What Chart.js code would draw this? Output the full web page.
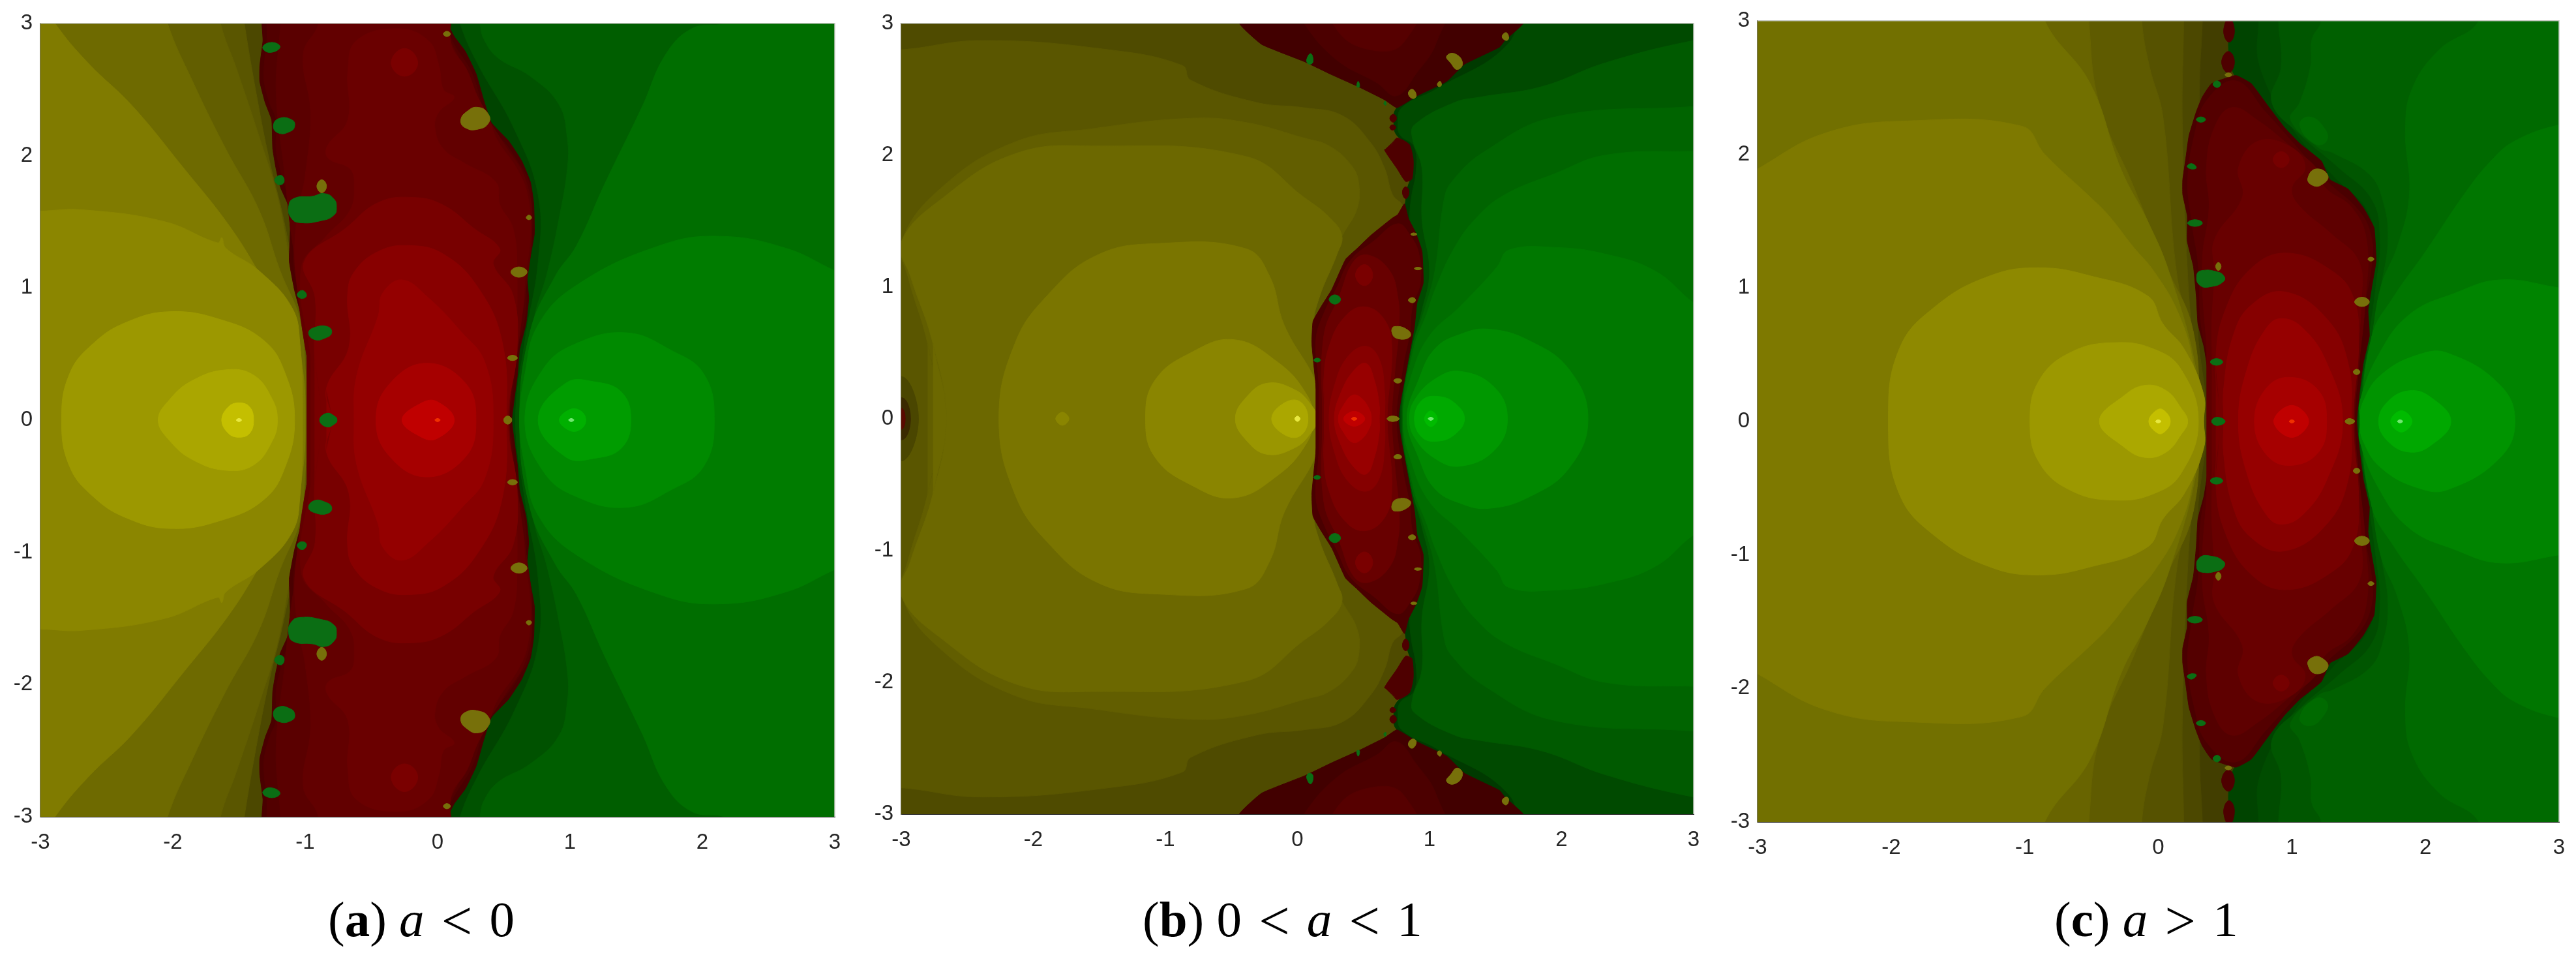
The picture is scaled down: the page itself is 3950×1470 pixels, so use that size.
<!DOCTYPE html>
<html><head><meta charset="utf-8">
<script src="https://cdn.jsdelivr.net/npm/chart.js@4"></script>
<style>
html,body{margin:0;padding:0;background:#fff;width:3950px;height:1470px;overflow:hidden}
canvas{position:absolute}
.cap{position:absolute;font-family:"Liberation Serif",serif;font-size:77px;color:#000;white-space:pre;line-height:90px;top:1362px}
.cap b{font-weight:bold}.cap i{font-style:italic}.cap span{margin:0 7px;font-size:84px;position:relative;top:5px}
</style></head><body>
<canvas id="a"></canvas><canvas id="b"></canvas><canvas id="c"></canvas>
<div class="cap" style="left:503px">(<b>a</b>) <i>a</i> <span>&lt;</span> 0</div>
<div class="cap" style="left:1752px">(<b>b</b>) 0 <span>&lt;</span> <i>a</i> <span>&lt;</span> 1</div>
<div class="cap" style="left:3150px">(<b>c</b>) <i>a</i> <span>&gt;</span> 1</div>
<script>
const tickValues=[-3,-2,-1,0,1,2,3];
/* Panel (a): upper-half contours, the lower half is the mirror image */
const A_Y1=[-3.3,0,-3.3,3.3,-1.5,3.3,-1.46,3,-1.37,2.47,-1.27,1.96,-1.17,1.55,-1.06,.99,-.98,.58,-.92,0];
const A_Y2=[-3.3,0,-3.3,3.3,-1.68,3.3,-1.64,3,-1.52,2.66,-1.35,2.15,-1.21,1.69,-1.12,1.22,-1.04,.76,-.96,0];
const A_Y3=[-3.3,0,-3.3,3.3,-2.1,3.3,-2.04,3,-1.85,2.56,-1.6,2.05,-1.35,1.59,-1.19,1.13,-1.04,.76,-1,.39,-.98,0];
const A_Y4=[-3.3,0,-3.3,3.3,-3,3.2,-2.89,3,-2.64,2.7,-2.31,2.38,-1.93,1.92,-1.56,1.45,-1.27,.99,-1.1,.76,-1.02,.39,-1,0];
const A_Y5=[-3.3,0,-3.3,1.57,-3,1.58,-2.68,1.59,-2.06,1.5,-1.66,1.34,-1.63,1.38,-1.6,1.3,-1.35,1.13,-1.1,.85,-1.04,.58,-1.02,0];
const A_Y6=[-2.84,0,-2.78,.35,-2.6,.58,-2.35,.74,-2.02,.82,-1.64,.76,-1.31,.6,-1.15,.35,-1.08,0];
const A_Y7=[-2.11,0,-2.02,.16,-1.85,.3,-1.6,.38,-1.39,.34,-1.25,.16,-1.21,0];
const A_Y8=[-1.63,0,-1.58,.1,-1.5,.13,-1.42,.1,-1.39,0];
const A_YD=[-1.52,0,-1.5,.012,-1.48,0];
const A_G0=[.5,0,.5,1,.55,1.5,.3,2.2,0,3,-.1,3.3,3.3,3.3,3.3,0];
const A_G1=[.59,0,.66,.6,.76,1.2,.76,1.7,.58,2.2,.3,2.7,.17,3,.1,3.3,3.3,3.3,3.3,0];
const A_G2=[.66,0,.72,.72,.83,1.12,.915,1.51,.98,1.9,.98,2.13,.915,2.39,.7,2.6,.455,2.74,.35,2.88,.32,3,.28,3.3,3.3,3.3,3.3,0];
const A_G3=[.62,0,.7,.67,.89,1.09,1.05,1.32,1.26,1.78,1.55,2.38,1.72,2.76,1.92,2.96,2.2,3.02,2.4,3.3,3.3,3.3,3.3,0];
const A_G4=[.62,0,.66,.35,.76,.72,1.05,1.02,1.68,1.32,2.13,1.39,2.63,1.3,3,1.13,3.3,1,3.3,0];
const A_G5=[.66,0,.8,.39,1.05,.58,1.43,.66,1.76,.53,2.01,.35,2.09,0];
const A_G6=[.76,0,.97,.28,1.18,.29,1.39,.21,1.46,0];
const A_G7=[.92,0,1,.08,1.08,.07,1.12,0];
const A_GD=[.99,0,1.01,.012,1.03,0];
const A_R0=[-.9,0,-.925,.15,-.974,.38,-.974,.61,-1.023,.77,-1.08,.98,-1.12,1.2,-1.113,1.45,-1.13,1.63,-1.187,1.76,-1.22,1.9,-1.245,2.05,-1.253,2.27,-1.302,2.4,-1.343,2.56,-1.343,2.68,-1.319,2.87,-1.327,3,-1.327,3.3,.077,3.3,.077,3,.126,2.9,.208,2.79,.29,2.62,.348,2.42,.405,2.25,.537,2.11,.635,1.96,.701,1.8,.726,1.64,.731,1.41,.701,1.24,.676,1.08,.688,.92,.668,.73,.619,.53,.603,.34,.578,.15,.56,0];
const A_R1=[-.87,0,-.94,.38,-1,.77,-1.05,.98,-1.09,1.2,-1.08,1.45,-1.1,1.63,-1.15,1.76,-1.19,1.9,-1.22,2.05,-1.22,2.27,-1.27,2.4,-1.31,2.56,-1.31,2.68,-1.29,2.87,-1.29,3,-1.29,3.3,.04,3.3,.06,3,.12,2.85,.26,2.62,.38,2.25,.52,2.08,.62,1.93,.69,1.8,.71,1.64,.71,1.41,.67,1.24,.66,1.08,.67,.92,.65,.73,.6,.53,.58,.34,.56,.15,.54,0];
const A_R2=[-.86,0,-.966,.63,-1.04,1.02,-1.105,1.41,-1.155,1.86,-1.22,2.48,-1.187,3,-1.187,3.3,.05,3.3,.05,3,.208,2.64,.307,2.4,.5,2.09,.67,1.8,.71,1.41,.67,1.02,.6,.53,.54,0];
const A_R3=[-.88,0,-.99,.5,-1.06,1,-1.08,1.3,-1.05,1.6,-1,1.85,-.96,2.33,-1.015,2.77,-.9,3,-.9,3.3,.08,3.3,.1,2.85,.22,2.65,.3,2.45,.38,2.3,.45,2.12,.6,1.9,.68,1.7,.7,1.4,.66,1.05,.65,.9,.6,.5,.54,0];
const A_R4=[-.87,0,-.96,.5,-1.03,1.15,-.842,1.39,-.662,1.586,-.629,1.78,-.662,1.9,-.826,1.98,-.834,2.07,-.678,2.27,-.678,2.64,-.612,2.87,-.3,2.96,-.07,2.87,.01,2.68,.044,2.5,.126,2.44,.01,2.33,-.02,2.21,.044,2.05,.208,1.94,.44,1.8,.47,1.63,.57,1.45,.6,1.12,.586,.535,.54,0];
const A_R5=[-.88,0,-.93,.5,-.925,.925,-1.007,1.2,-.695,1.45,-.448,1.645,-.186,1.684,.044,1.625,.274,1.45,.47,1.295,.42,1.18,.57,.945,.6,.535,.53,0];
const A_R6=[-.8,0,-.84,.24,-.67,.55,-.68,.945,-.63,1.12,-.448,1.275,-.218,1.32,.044,1.255,.307,1,.488,.59,.52,0];
const A_R7=[-.63,0,-.61,.34,-.448,.79,-.415,.96,-.268,1.06,-.07,.925,.176,.67,.356,.44,.42,0];
const A_R8=[-.465,0,-.366,.27,-.087,.43,.21,.28,.29,0];
const A_R9=[-.268,0,-.12,.13,-.005,.14,.126,0];
const A_RD=[-.02,0,0,.012,.02,0];
const A_SPOT=[-.35,2.7,-.25,2.81,-.15,2.7,-.25,2.6];
const A_GREEN=[[-1.125,1.606,-1.089,1.674,-.941,1.693,-.859,1.713,-.785,1.674,-.764,1.606,-.785,1.548,-.875,1.509,-1.04,1.493,-1.105,1.528],[-1.24,2.22,-1.2,2.28,-1.1,2.27,-1.08,2.22,-1.12,2.18,-1.2,2.17],[-.974,.66,-.93,.7,-.83,.706,-.8,.66,-.85,.62,-.93,.609],[-.89,0,-.84,.05,-.78,.03,-.76,0,-.78,-.03,-.84,-.05],[-1.32,2.82,-1.25,2.856,-1.19,2.82,-1.27,2.78],[-1.23,1.82,-1.18,1.85,-1.16,1.8,-1.2,1.78],[-1.06,.95,-1.02,.98,-.99,.94,-1.03,.92]];
const A_YELLOW=[[-.911,1.768,-.875,1.817,-.839,1.768,-.875,1.719],[.176,2.268,.225,2.336,.307,2.365,.381,2.317,.386,2.248,.307,2.2,.21,2.21],[.554,1.12,.615,1.158,.676,1.12,.615,1.08],[.529,.47,.566,.49,.603,.47,.566,.45],[.5,0,.53,.03,.56,0,.53,-.03],[.67,1.53,.69,1.55,.71,1.53,.69,1.515],[.044,2.92,.07,2.94,.097,2.92,.07,2.9]];
/* Panel (b) */
const B_Y1=[-3.3,0,-3.3,3.3,1,3.3,1,0];
const B_Y2=[-3.3,0,-3.3,2.8,-3,2.8,-2.39,2.87,-1.43,2.8,-.87,2.68,-.81,2.57,-.31,2.4,.05,2.36,.34,2.3,.55,2.1,.66,1.9,.72,1.7,.8,1.6,.85,0];
const B_Y2B=[-2.7,0,-2.8,.57,-2.95,1.08,-3,1.34,-2.7,1.75,-2.14,2.1,-1.56,2.2,-.81,2.28,-.4,2.25,.05,2.13,.24,2.07,.41,1.92,.465,1.78,.45,1.59,.34,1.39,.22,1.13,.13,.84,.14,0];
const B_Y3=[-2.66,0,-2.76,.57,-2.93,1.08,-3,1.34,-2.68,1.68,-2.14,2.01,-1.56,2.07,-.39,1.99,.05,1.68,.24,1.53,.336,1.39,.3,1.25,.165,.92,.12,.7,.15,0];
const B_Y4=[-2.26,0,-2.14,.57,-1.89,.94,-1.52,1.24,-1.06,1.33,-.39,1.29,-.21,1.08,-.1,.71,.15,.25,.17,0];
const B_Y5=[-1.15,0,-1.08,.29,-.81,.5,-.48,.6,-.15,.43,.06,.2,.12,0];
const B_Y6=[-.47,0,-.39,.16,-.23,.27,-.02,.22,.1,.11,.15,0];
const B_Y7=[-.195,0,-.1,.12,.02,.13,.08,0];
const B_YD=[-.02,0,0,.02,.02,0];
const B_YS=[-1.83,0,-1.78,.05,-1.73,0];
const B_N1=[-3.2,0,-3,.32,-2.87,0];
const B_N2=[-3.2,0,-3,.16,-2.93,0];
const B_N3=[-3.1,0,-3,.08,-2.97,0];
const B_G0=[.7,0,.75,1,.8,1.5,.82,1.66,.83,1.74,.877,1.9,.848,2.07,.753,2.15,.73,2.23,.753,2.36,1,2.55,1.6,3.3,3.3,3.3,3.3,0];
const B_G1=[.78,0,.85,.6,.88,1,.85,1.5,.86,1.66,.9,1.9,.88,2.07,.78,2.15,.76,2.23,.79,2.36,1.05,2.5,1.6,2.85,1.78,3.3,3.3,3.3,3.3,0];
const B_G2=[.79,0,.867,.53,.943,.82,1,1.12,.943,1.51,.943,1.9,.87,2.13,.886,2.23,1.19,2.4,1.38,2.44,1.85,2.52,2.33,2.7,3,2.87,3.3,2.9,3.3,0];
const B_G3=[.795,0,.867,.53,.96,.82,1.04,1.12,1.11,1.66,1.17,1.8,1.42,2.03,1.95,2.29,3,2.37,3.3,2.4,3.3,0];
const B_G4=[.8,0,.88,.53,.98,.8,1.05,1,1.19,1.3,1.36,1.53,1.57,1.7,1.95,1.86,2.33,2,3,2.03,3.3,2.03,3.3,0];
const B_G5=[.8,0,.867,.34,1,.63,1.23,.85,1.51,1.15,1.6,1.28,1.95,1.3,2.33,1.25,2.71,1.12,3,.88,3.3,.7,3.3,0];
const B_G6=[.83,0,.92,.3,1.04,.53,1.23,.64,1.45,.68,1.76,.59,2.06,.37,2.2,0];
const B_G7=[.85,0,.886,.14,1.04,.3,1.23,.36,1.49,.24,1.59,0];
const B_G8=[.886,0,.943,.14,1.06,.17,1.19,.12,1.265,0];
const B_G9=[.962,0,1.01,.06,1.06,0];
const B_GD=[.99,0,1.01,.012,1.03,0];
const B_R0=[.166,0,.137,.28,.109,.57,.118,.74,.185,.86,.26,.98,.365,1.21,.45,1.29,.554,1.39,.715,1.52,.76,1.55,.81,1.63,.84,1.52,.896,1.41,.943,1.27,.952,1.03,.905,.88,.886,.7,.839,.45,.782,.14,.763,0];
const B_R1=[.18,0,.16,.3,.14,.6,.2,.8,.3,1,.4,1.2,.58,1.35,.76,1.48,.86,1.38,.92,1.25,.93,1.03,.87,.85,.85,.65,.8,.4,.75,0];
const B_R2=[.19,0,.2,.63,.317,.93,.43,1.2,.545,1.24,.7,1.12,.76,.92,.77,.72,.735,.33,.715,0];
const B_R3=[.21,0,.2,.3,.24,.55,.355,.77,.507,.85,.66,.75,.715,.53,.68,0];
const B_R4=[.24,0,.28,.25,.38,.47,.52,.55,.62,.45,.66,.2,.66,0];
const B_R5=[.28,0,.33,.2,.43,.37,.52,.42,.58,.3,.62,.1,.62,0];
const B_R6=[.31,0,.36,.12,.42,.18,.48,.16,.54,.08,.56,0];
const B_R7=[.35,0,.4,.05,.46,.05,.51,0];
const B_RD=[.41,0,.43,.012,.45,0];
const B_RSPOT=[.44,1.09,.507,1.17,.57,1.09,.507,1.01];
const B_RS=[.687,2.05,.753,2.13,.848,2.08,.877,1.96,.867,1.82,.82,1.8,.753,1.9,.659,2.04];
const B_RS2=[.7,2.28,.725,2.31,.75,2.28,.725,2.25];
const B_RS4=[.7,2.21,.72,2.23,.745,2.21,.72,2.19];
const B_RS3=[.795,1.72,.82,1.76,.845,1.72,.82,1.67];
const B_RT0=[-.44,3.3,-.44,3,-.27,2.84,.052,2.71,.26,2.61,.46,2.52,.66,2.42,.753,2.36,.905,2.45,1.13,2.56,1.265,2.69,1.53,2.82,1.57,2.87,1.66,2.95,1.71,3,1.75,3.3];
const B_RT1=[-.1,3.3,.05,3,.3,2.72,.6,2.55,.75,2.45,.9,2.62,1.05,2.85,1.15,3.3];
const B_RT2=[.2,3.3,.3,2.95,.55,2.8,.8,2.85,.95,3.3];
const B_GREEN=[[.24,.905,.283,.94,.327,.905,.283,.87],[.124,.445,.15,.46,.175,.445,.15,.43],[.07,2.72,.1,2.77,.118,2.71,.09,2.69],[.45,2.52,.46,2.56,.47,2.52],[.655,2.39,.665,2.41,.67,2.38]];
const B_YELLOW=[[.715,.66,.735,.7,.84,.67,.85,.62,.753,.61],[.84,.9,.87,.92,.895,.9,.87,.88],[.886,1.14,.91,1.15,.94,1.14,.91,1.13],[.858,1.4,.88,1.41,.905,1.4,.88,1.39],[.73,.29,.76,.305,.79,.29,.76,.27],[.68,0,.72,.02,.77,0,.72,-.02],[1.13,2.75,1.19,2.77,1.25,2.7,1.21,2.65,1.16,2.7],[1.55,2.9,1.58,2.93,1.6,2.89,1.58,2.87],[.84,2.47,.87,2.5,.9,2.45,.87,2.43],[1.06,2.54,1.08,2.56,1.09,2.53,1.07,2.52]];
/* Panel (c) */
const C_Y0=[.36,0,.3,.6,.3,1.5,.31,2.57,.33,3,.33,3.3,-3.3,3.3,-3.3,0];
const C_Y1=[.32,0,.26,.59,.22,1.09,.18,2.23,.19,3,.19,3.3,-3.3,3.3,-3.3,0];
const C_Y2=[.32,0,.26,.59,.14,1.09,.035,2.28,-.067,2.66,-.124,3,-.124,3.3,-3.3,3.3,-3.3,0];
const C_Y3=[.3,0,.26,.68,.05,1.18,-.19,1.77,-.44,2.37,-.52,3,-.52,3.3,-3.3,3.3,-3.3,0];
const C_Y4=[.3,0,.28,.4,.08,1.12,-.08,1.5,-.28,1.89,-.51,2.53,-.85,3,-.87,3.3,-3.3,3.3,-3.3,0];
const C_Y5=[.3,0,.26,.44,.15,.81,-.03,1.12,-.19,1.31,-.37,1.54,-.51,1.68,-.85,2,-1.02,2.21,-1.88,2.25,-2.49,2.16,-3,1.89,-3.3,1.7,-3.3,0];
const C_Y6=[-2.02,0,-1.94,.54,-1.67,.86,-1.26,1.09,-.89,1.15,-.51,1.09,-.08,.94,.035,.73,.195,.54,.34,.2,.34,0];
const C_Y7=[-.96,0,-.89,.31,-.65,.52,-.32,.59,-.03,.54,.17,.39,.3,0];
const C_Y8=[-.44,0,-.26,.19,-.1,.27,.06,.23,.17,.1,.22,0];
const C_Y9=[-.07,0,-.03,.07,.03,.09,.09,0];
const C_YD=[-.02,0,0,.012,.02,0];
const C_G0=[1.4,0,1.4,1,1.4,1.5,.9,2.2,.6,2.55,.535,2.7,.53,3,.53,3.3,3.3,3.3,3.3,0];
const C_G1=[1.49,0,1.55,.6,1.6,1.2,1.58,1.55,1.3,1.85,1,2.2,.76,2.66,.75,3,.75,3.3,3.3,3.3,3.3,0];
const C_G2=[1.5,0,1.56,.5,1.63,1.02,1.66,1.37,1.6,1.66,1.35,1.9,1.06,2.15,.85,2.39,.92,2.66,.9,3,.9,3.3,3.3,3.3,3.3,0];
const C_G3=[1.52,0,1.53,.3,1.6,.64,1.67,1.02,1.72,1.37,1.68,1.66,1.58,1.85,1.31,2.01,1.2,2.05,.99,2.26,1.06,2.39,1.14,2.66,1.15,2.86,1.22,3,1.22,3.3,3.3,3.3,3.3,0];
const C_G4=[1.52,0,1.54,.3,1.6,.64,1.67,1.02,1.79,1.31,1.88,1.7,1.85,2.18,1.9,2.49,2.1,2.78,2.4,3,2.4,3.3,3.3,3.3,3.3,0];
const C_G5=[1.53,0,1.6,.64,1.76,.93,2,1.27,2.29,1.7,2.49,1.95,2.67,2.1,3,2.22,3.3,2.25,3.3,0];
const C_G6=[1.51,0,1.51,.15,1.65,.5,1.88,.8,2.22,.96,2.56,1.06,3,1,3.3,.95,3.3,0];
const C_G7=[1.51,0,1.535,.15,1.67,.35,1.95,.5,2.17,.51,2.56,.27,2.67,0];
const C_G8=[1.65,0,1.72,.15,1.88,.23,2.04,.18,2.19,0];
const C_G9=[1.74,0,1.82,.08,1.9,0];
const C_GD=[1.79,0,1.81,.012,1.83,0];
const C_GS=[1.06,2.22,1.13,2.28,1.24,2.2,1.26,2.1,1.17,2.08];
const C_R0=[.445,0,.42,.12,.376,.35,.342,.56,.297,.73,.285,.93,.263,1.16,.217,1.35,.217,1.54,.183,1.7,.183,1.81,.206,1.97,.23,2.14,.285,2.32,.33,2.43,.4,2.53,.58,2.59,.695,2.53,.83,2.35,.945,2.2,1.06,2.08,1.22,1.95,1.285,1.81,1.42,1.74,1.535,1.6,1.615,1.45,1.63,1.2,1.6,1.02,1.57,.83,1.58,.64,1.535,.44,1.51,.25,1.485,0];
const C_R1=[.46,0,.4,.35,.32,.73,.3,1.16,.25,1.5,.22,1.8,.27,2.14,.36,2.4,.58,2.55,.8,2.32,1.04,2.05,1.26,1.8,1.5,1.58,1.59,1.4,1.6,1.2,1.54,.83,1.48,.25,1.46,0];
const C_R2=[.43,0,.36,.6,.33,1.2,.38,1.6,.36,1.9,.42,2.2,.55,2.35,.75,2.25,1,2.05,1.18,1.9,1.25,1.75,1.45,1.6,1.56,1.35,1.55,.9,1.5,.4,1.47,0];
const C_R3=[.44,0,.4,.6,.42,1.12,.42,1.36,.63,1.68,.6,1.9,.75,2.1,1,2.05,1.1,1.9,1,1.75,1.05,1.62,1.3,1.4,1.5,1.2,1.52,.9,1.46,0];
const C_R4=[.46,0,.43,.45,.5,.83,.7,1.15,.97,1.26,1.31,1.12,1.46,.93,1.5,.6,1.46,0];
const C_R5=[.49,0,.49,.25,.56,.64,.695,.87,.945,.97,1.26,.77,1.42,.44,1.445,0];
const C_R6=[.6,0,.67,.41,.81,.7,.92,.77,1.08,.7,1.26,.44,1.38,0];
const C_R7=[.72,0,.81,.25,.99,.33,1.2,.23,1.26,0];
const C_R8=[.865,0,1,.12,1.126,0];
const C_RD=[.98,0,1,.012,1.02,0];
const C_RS=[.86,1.96,.92,2.02,.98,1.96,.92,1.9];
const C_RT1=[.475,2.69,.525,2.77,.57,2.69,.525,2.61];
const C_RT2=[.49,2.92,.53,3.02,.57,2.92,.53,2.84];
const C_GREEN=[[.29,1.1,.33,1.13,.44,1.12,.49,1.09,.49,1.05,.4,1.01,.31,1.02],[.39,.445,.435,.47,.483,.445,.435,.42],[.4,0,.44,.03,.5,0,.44,-.03],[.217,1.91,.25,1.93,.285,1.9,.25,1.89],[.22,1.485,.275,1.51,.33,1.485,.275,1.46],[.285,2.26,.32,2.28,.354,2.26,.32,2.24],[.41,2.525,.44,2.55,.467,2.525,.44,2.5]];
const C_YELLOW=[[.43,1.16,.45,1.19,.47,1.16,.45,1.13],[1.12,1.82,1.18,1.89,1.27,1.84,1.22,1.77,1.15,1.77],[1.47,.895,1.525,.93,1.58,.895,1.525,.86],[1.46,.37,1.485,.39,1.51,.37,1.485,.35],[1.57,1.215,1.59,1.23,1.615,1.215,1.59,1.2],[1.4,0,1.43,.02,1.47,0,1.43,-.02],[.5,2.595,.525,2.61,.55,2.595,.525,2.58]];

const GI="#0b6e14", YI="#77700a";
const SMOOTH=.42, SHARP=.12;

function pairs(f){const o=[];for(let i=0;i<f.length;i+=2)o.push({x:f[i],y:f[i+1]});return o;}
/* wrap a ring so that the spline has neighbours at the seam too */
function wrap(r){return [r[r.length-1],...r,r[0],r[1]];}
/* close an upper-half chain with its mirror image below the axis */
function mirrored(f){const p=pairs(f),q=[...p];for(let i=p.length-1;i>=0;i--){if(p[i].y!==0)q.push({x:p[i].x,y:-p[i].y});}return wrap(q);}
function flip(f){return pairs(f).map(p=>({x:p.x,y:-p.y}));}
function makeDatasets(layers){
  const out=[];
  const add=(data,color,tension)=>out.push({data,backgroundColor:color,borderColor:color,borderWidth:1,fill:'shape',pointRadius:0,tension});
  for(const [kind,color,f,t] of layers){
    const ten=t===undefined?SMOOTH:t;
    if(kind==='m') add(mirrored(f),color,ten);
    else { add(wrap(pairs(f)),color,ten); add(wrap(flip(f)),color,ten); }
  }
  return out;
}
const many=(list,color)=>list.map(f=>['i',color,f,.5]);
const layersA=[
 ['m','#4c4800',[-3.3,0,-3.3,3.3,.2,3.3,.2,0]],
 ['m','#5a5600',A_Y1],['m','#625e00',A_Y2],['m','#6e6a00',A_Y3],['m','#807b00',A_Y4],['m','#8b8600',A_Y5],['m','#9c9800',A_Y6],['m','#aaa600',A_Y7],['m','#c4bf00',A_Y8],['m','#e8e840',A_YD],
 ['m','#004400',A_G0],['m','#005200',A_G1],['m','#005e00',A_G2],['m','#006e00',A_G3],['m','#007c00',A_G4],['m','#008a00',A_G5],['m','#009c00',A_G6],['m','#00b000',A_G7],['m','#70e870',A_GD],
 ['m','#4a0000',A_R0,SHARP],['m','#520000',A_R1],['m','#5a0000',A_R2],['m','#620000',A_R3],['m','#6a0000',A_R4],['m','#780000',A_R5],['m','#880000',A_R6],['m','#940000',A_R7],['m','#a60000',A_R8],['m','#c00000',A_R9],['m','#f03000',A_RD],
 ['i','#7a0000',A_SPOT,.5],...many(A_GREEN,GI),...many(A_YELLOW,YI)];
const layersB=[
 ['m','#4f4b00',B_Y1],['m','#5a5600',B_Y2],['m','#625e00',B_Y2B],['m','#6c6800',B_Y3],['m','#7a7500',B_Y4],['m','#8a8500',B_Y5],['m','#9a9600',B_Y6],['m','#aba700',B_Y7],['m','#e8e840',B_YD],['m','#8a8500',B_YS],
 ['m','#4a4600',B_N1],['m','#3a2a00',B_N2],['m','#5a0a00',B_N3],
 ['m','#003a00',B_G0],['m','#004a00',B_G1],['m','#005a00',B_G2],['m','#006400',B_G3],['m','#006e00',B_G4],['m','#007800',B_G5],['m','#008800',B_G6],['m','#009800',B_G7],['m','#00aa00',B_G8],['m','#00bb00',B_G9],['m','#70e870',B_GD],
 ['m','#4a0000',B_R0,SHARP],['m','#580000',B_R1],['m','#680000',B_R2],['m','#780000',B_R3],['m','#860000',B_R4],['m','#980000',B_R5],['m','#aa0000',B_R6],['m','#c00000',B_R7],['m','#f03000',B_RD],
 ['i','#7a0000',B_RSPOT,.5],['i','#4e0000',B_RS,.2],['i','#4e0000',B_RS2,.5],['i','#4e0000',B_RS4,.5],['i','#4e0000',B_RS3,.5],
 ['i','#420000',B_RT0,SHARP],['i','#4c0000',B_RT1],['i','#560000',B_RT2],...many(B_GREEN,GI),...many(B_YELLOW,YI)];
const layersC=[
 ['m','#423e00',[-3.3,0,-3.3,3.3,.7,3.3,.7,0]],
 ['m','#4c4800',C_Y0],['m','#565200',C_Y1],['m','#5f5b00',C_Y2],['m','#686400',C_Y3],['m','#727000',C_Y4],['m','#7e7900',C_Y5],['m','#8e8900',C_Y6],['m','#9c9800',C_Y7],['m','#aba800',C_Y8],['m','#c4bf00',C_Y9],['m','#e8e840',C_YD],
 ['m','#004400',C_G0],['m','#004c00',C_G1],['m','#005600',C_G2],['m','#006000',C_G3],['m','#006a00',C_G4],['i','#006a00',C_GS,.5],['m','#007600',C_G5],['m','#008400',C_G6],['m','#009400',C_G7],['m','#00a800',C_G8],['m','#00bb00',C_G9],['m','#70e870',C_GD],
 ['m','#4a0000',C_R0,SHARP],['m','#540000',C_R1],['m','#5e0000',C_R2],['m','#680000',C_R3],['m','#760000',C_R4],['m','#860000',C_R5],['m','#960000',C_R6],['m','#a60000',C_R7],['m','#c00000',C_R8],['m','#f03000',C_RD],
 ['i','#760000',C_RS,.5],['i','#4e0000',C_RT1,.5],['i','#4e0000',C_RT2,.5],...many(C_GREEN,GI),...many(C_YELLOW,YI)];

const frame={id:'frame',afterDatasetsDraw(chart){const {ctx,chartArea:a}=chart;ctx.save();ctx.strokeStyle='#c4c8c0';ctx.lineWidth=1.5;ctx.beginPath();ctx.moveTo(a.left,a.top);ctx.lineTo(a.right,a.top);ctx.lineTo(a.right,a.bottom);ctx.stroke();ctx.restore();}};
function panel(id,layers,plot){
  const pad={left:0,top:30,right:40,bottom:0};
  const el=document.getElementById(id);
  const W=plot.r-plot.l+plot.yw+pad.right, H=plot.b-plot.t+pad.top+plot.xh;
  el.width=W;el.height=H;el.style.left=(plot.l-plot.yw)+'px';el.style.top=(plot.t-pad.top)+'px';
  const ds=makeDatasets(layers);ds.forEach((d,i)=>d.order=-i);
  const tickFont={family:'"Liberation Sans",Arial,sans-serif',size:33};
  const axis=(fit,color,w)=>({type:'linear',min:-3,max:3,grid:{drawOnChartArea:false,drawTicks:false,display:true},
    border:{display:true,color,width:w},
    afterBuildTicks:s=>{s.ticks=tickValues.map(v=>({value:v}));},afterFit:fit});
  new Chart(el,{type:'line',data:{datasets:ds},plugins:[frame],options:{
    responsive:false,animation:false,devicePixelRatio:1,layout:{padding:pad},events:[],
    plugins:{legend:{display:false},tooltip:{enabled:false},title:{display:false},filler:{propagate:false}},
    elements:{line:{capBezierPoints:false}},
    scales:{
      x:{...axis(s=>{s.height=plot.xh;},'#333',2),ticks:{font:tickFont,color:'#262626',padding:20,maxRotation:0,autoSkip:false}},
      y:{...axis(s=>{s.width=plot.yw;},'#77775e',1.5),ticks:{font:tickFont,color:'#262626',padding:12,autoSkip:false}}
    }}});
}
panel('a',layersA,{l:62,r:1280,t:34,b:1252,yw:62,xh:60});
panel('b',layersB,{l:1382,r:2597,t:34,b:1248,yw:62,xh:60});
panel('c',layersC,{l:2695,r:3924,t:30,b:1260,yw:62,xh:60});
</script></body></html>
